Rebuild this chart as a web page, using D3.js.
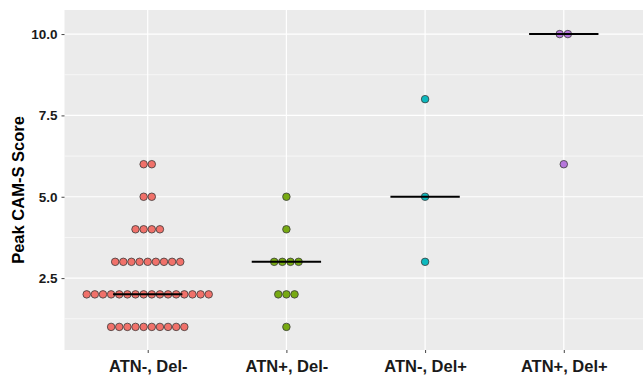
<html>
<head>
<meta charset="utf-8">
<title>Peak CAM-S Score</title>
<script src="https://cdn.jsdelivr.net/npm/d3@7"></script>
<style>
  body { margin: 0; background: #fff; }
  text { font-family: "Liberation Sans", Arial, sans-serif; font-weight: bold; }
</style>
</head>
<body>
<svg id="chart" width="643" height="375"></svg>
<script>
    // groups on the x axis
    var categories = ["ATN-, Del-", "ATN+, Del-", "ATN-, Del+", "ATN+, Del+"];
    var colors = ["#F0716A", "#77AA12", "#0DB9BE", "#B677DB"];

    // peak CAM-S score for every patient, per group
    var atnNegDelNeg = [1, 1, 1, 1, 1, 1, 1, 1, 1, 1,
        2, 2, 2, 2, 2, 2, 2, 2, 2, 2, 2, 2, 2, 2, 2, 2,
        3, 3, 3, 3, 3, 3, 3, 3, 3,
        4, 4, 4, 4,
        5, 5,
        6, 6];
    var atnPosDelNeg = [1, 2, 2, 2, 3, 3, 3, 3, 4, 5];
    var atnNegDelPos = [3, 5, 8];
    var atnPosDelPos = [6, 10, 10];
    var groups = [atnNegDelNeg, atnPosDelNeg, atnNegDelPos, atnPosDelPos];

    var medians = [2, 3, 5, 10];
    var yTicks = [2.5, 5, 7.5, 10];
    var yMinor = [1.25, 3.75, 6.25, 8.75];

    var panel = { left: 64.5, right: 647, top: 10, bottom: 350 };

    var svg = d3.select("#chart");

    var x = d3.scalePoint()
        .domain(categories)
        .range([panel.left, panel.right])
        .padding(0.6);

    var y = d3.scaleLinear()
        .domain([0.29, 10.74])
        .range([panel.bottom, panel.top]);

    var binwidth = 0.25;
    var dotD = y(0) - y(binwidth); // dot diameter in px

    // panel background
    svg.append("rect")
        .attr("x", panel.left).attr("y", panel.top)
        .attr("width", panel.right - panel.left)
        .attr("height", panel.bottom - panel.top)
        .attr("fill", "#EBEBEB");

    // minor grid
    svg.append("g").selectAll("line")
        .data(yMinor)
        .enter().append("line")
        .attr("x1", panel.left).attr("x2", panel.right)
        .attr("y1", function(d) { return y(d); })
        .attr("y2", function(d) { return y(d); })
        .attr("stroke", "#fff").attr("stroke-width", 0.6);

    // major grid
    svg.append("g").selectAll("line")
        .data(yTicks)
        .enter().append("line")
        .attr("x1", panel.left).attr("x2", panel.right)
        .attr("y1", function(d) { return y(d); })
        .attr("y2", function(d) { return y(d); })
        .attr("stroke", "#fff").attr("stroke-width", 1.2);

    svg.append("g").selectAll("line")
        .data(categories)
        .enter().append("line")
        .attr("x1", function(d) { return x(d); })
        .attr("x2", function(d) { return x(d); })
        .attr("y1", panel.top).attr("y2", panel.bottom)
        .attr("stroke", "#fff").attr("stroke-width", 1.2);

    // y axis
    var yAxis = svg.append("g")
        .attr("transform", "translate(" + panel.left + ",0)")
        .call(d3.axisLeft(y).tickValues(yTicks).tickFormat(d3.format(".1f")).tickSize(3).tickPadding(4));
    yAxis.select(".domain").remove();
    yAxis.selectAll(".tick line").attr("stroke", "#444");
    yAxis.selectAll(".tick text")
        .attr("fill", "#1a1a1a")
        .style("font-size", "13.5px");

    // x axis
    var xAxis = svg.append("g")
        .attr("transform", "translate(0," + panel.bottom + ")")
        .call(d3.axisBottom(x).tickSize(3).tickPadding(7));
    xAxis.select(".domain").remove();
    xAxis.selectAll(".tick line").attr("stroke", "#444");
    xAxis.selectAll(".tick text")
        .attr("fill", "#1a1a1a")
        .style("font-size", "16.5px");

    // y title
    svg.append("text")
        .attr("transform", "translate(24,190) rotate(-90)")
        .attr("text-anchor", "middle")
        .attr("fill", "#000")
        .style("font-size", "16.5px")
        .text("Peak CAM-S Score");

    // dots, stacked centred around the group's x position
    groups.forEach(function(vals, gi) {
        var counts = d3.rollup(vals, function(v) { return v.length; }, function(d) { return d; });
        var dots = [];
        counts.forEach(function(n, v) {
            for (var i = 0; i < n; i++) {
                dots.push({ v: v, off: (i - (n - 1) / 2) * dotD });
            }
        });
        svg.append("g").selectAll("circle")
            .data(dots)
            .enter().append("circle")
            .attr("cx", function(d) { return x(categories[gi]) + d.off; })
            .attr("cy", function(d) { return y(d.v); })
            .attr("r", dotD / 2 - 0.3)
            .attr("fill", colors[gi])
            .attr("stroke", "#3a3a3a")
            .attr("stroke-width", 0.8);
    });

    // median bars
    var half = x.step() * 0.25;
    svg.append("g").selectAll("line")
        .data(medians)
        .enter().append("line")
        .attr("x1", function(d, i) { return x(categories[i]) - half; })
        .attr("x2", function(d, i) { return x(categories[i]) + half; })
        .attr("y1", function(d) { return y(d); })
        .attr("y2", function(d) { return y(d); })
        .attr("stroke", "#000")
        .attr("stroke-width", 2);
</script>
</body>
</html>
